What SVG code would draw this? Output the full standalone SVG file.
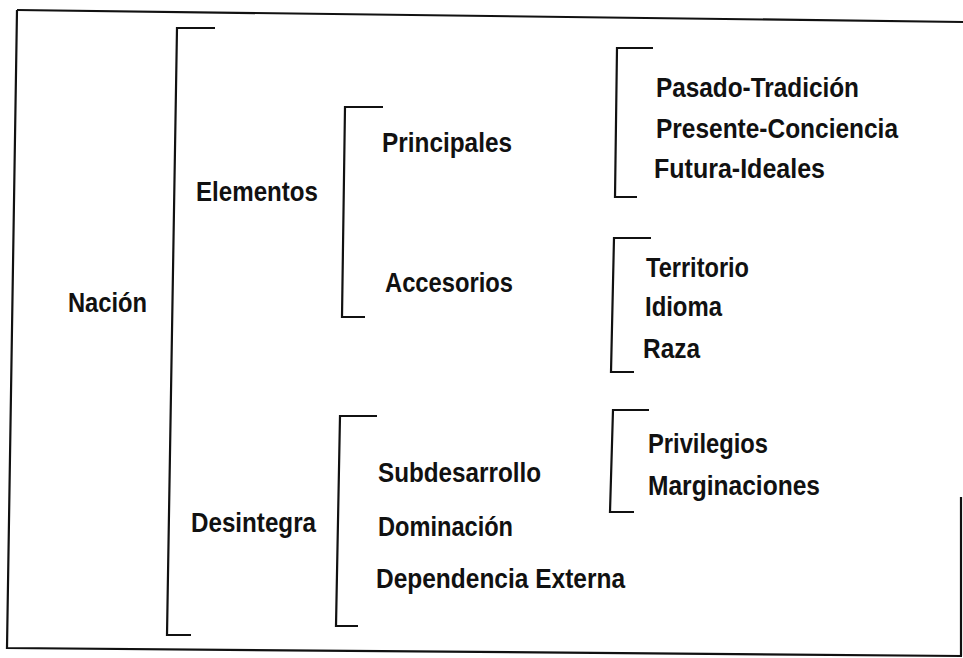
<svg xmlns="http://www.w3.org/2000/svg" width="963" height="658" viewBox="0 0 963 658">
<style>
.t{font-family:"Liberation Sans",Arial,sans-serif;font-size:28px;font-weight:bold;fill:#111;}
.b{fill:none;stroke:#111;stroke-width:2.2;stroke-linejoin:miter;}
.f{fill:none;stroke:#111;stroke-width:2.2;}
</style>
<rect x="0" y="0" width="963" height="658" fill="#fff"/>
<g id="frame">
<path class="f" d="M17,10 L963,22"/>
<path class="f" d="M17,10 L7,648 L962,656"/>
<path class="f" d="M961,497 L961,656"/>
</g>
<g id="connectors">
<path class="b" d="M215,28 L177,28 L167,635 L191,635"/>
<path class="b" d="M383,107 L345,107 L342,317 L365,317"/>
<path class="b" d="M653,48 L617,48 L615,197 L637,197"/>
<path class="b" d="M651,238 L614,238 L611,372 L634,372"/>
<path class="b" d="M377,416 L340,416 L336,626 L358,626"/>
<path class="b" d="M649,410 L613,410 L610,512 L634,512"/>
</g>
<g id="nacion"><text class="t" x="68" y="312" textLength="79" lengthAdjust="spacingAndGlyphs">Nación</text></g>
<g id="elementos"><text class="t" x="196" y="201" textLength="122" lengthAdjust="spacingAndGlyphs">Elementos</text></g>
<g id="principales"><text class="t" x="382" y="152" textLength="130" lengthAdjust="spacingAndGlyphs">Principales</text></g>
<g id="accesorios"><text class="t" x="385" y="292" textLength="128" lengthAdjust="spacingAndGlyphs">Accesorios</text></g>
<g id="pasado"><text class="t" x="656" y="97" textLength="203" lengthAdjust="spacingAndGlyphs">Pasado-Tradición</text></g>
<g id="presente"><text class="t" x="656" y="138" textLength="242" lengthAdjust="spacingAndGlyphs">Presente-Conciencia</text></g>
<g id="futura"><text class="t" x="654" y="178" textLength="171" lengthAdjust="spacingAndGlyphs">Futura-Ideales</text></g>
<g id="territorio"><text class="t" x="646" y="277" textLength="103" lengthAdjust="spacingAndGlyphs">Territorio</text></g>
<g id="idioma"><text class="t" x="645" y="316" textLength="77" lengthAdjust="spacingAndGlyphs">Idioma</text></g>
<g id="raza"><text class="t" x="643" y="358" textLength="57" lengthAdjust="spacingAndGlyphs">Raza</text></g>
<g id="desintegra"><text class="t" x="191" y="532" textLength="125" lengthAdjust="spacingAndGlyphs">Desintegra</text></g>
<g id="subdesarrollo"><text class="t" x="378" y="482" textLength="163" lengthAdjust="spacingAndGlyphs">Subdesarrollo</text></g>
<g id="dominacion"><text class="t" x="378" y="536" textLength="135" lengthAdjust="spacingAndGlyphs">Dominación</text></g>
<g id="dependencia"><text class="t" x="376" y="588" textLength="249" lengthAdjust="spacingAndGlyphs">Dependencia Externa</text></g>
<g id="privilegios"><text class="t" x="648" y="453" textLength="120" lengthAdjust="spacingAndGlyphs">Privilegios</text></g>
<g id="marginaciones"><text class="t" x="648" y="495" textLength="172" lengthAdjust="spacingAndGlyphs">Marginaciones</text></g>
</svg>
